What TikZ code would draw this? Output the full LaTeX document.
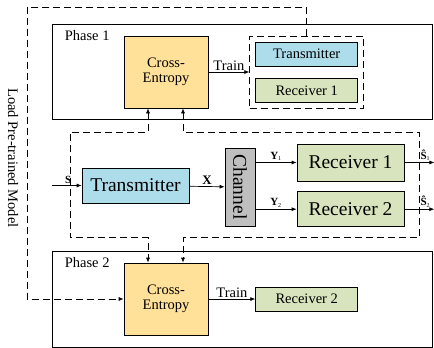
\documentclass[tikz,border=0pt]{standalone}
\usepackage{fontspec}
\setmainfont{Liberation Serif}
\usepackage{graphicx}
\usetikzlibrary{positioning,calc,arrows.meta}
\definecolor{ceyellow}{HTML}{FFE199}
\definecolor{txblue}{HTML}{ADDCEA}
\definecolor{rxgreen}{HTML}{D7E4BD}
\definecolor{chgray}{HTML}{BFBFBF}
\newcommand{\boxfont}{\fontsize{14.5}{15}\selectfont}
\newcommand{\bigboxfont}{\fontsize{19.5}{21}\selectfont}
\newcommand{\sigfont}{\fontsize{11}{12}\selectfont}
\newcommand{\sigsub}[1]{\textsubscript{\fontsize{6}{6}\selectfont #1}}

\begin{document}
\begin{tikzpicture}[x=1pt, y=-1pt,
  phase/.style={draw, line width=0.8pt, minimum width=380pt},
  block/.style={draw, line width=0.7pt, inner sep=0pt, align=center},
  ce/.style={block, fill=ceyellow, minimum width=84pt, minimum height=72pt, font=\boxfont},
  smalltx/.style={block, fill=txblue, minimum width=102pt, minimum height=24pt, font=\boxfont},
  smallrx/.style={block, fill=rxgreen, minimum width=102pt, minimum height=24pt, font=\boxfont},
  bigtx/.style={block, fill=txblue, minimum width=107pt, minimum height=35pt, font=\bigboxfont},
  bigrx/.style={block, fill=rxgreen, minimum width=107pt, font=\bigboxfont},
  arr/.style={-{Latex[length=5pt, width=4pt]}, line width=0.7pt},
  dasharr/.style={arr, dash pattern=on 7pt off 4pt},
  dashboth/.style={{Latex[length=5pt, width=4pt]}-{Latex[length=5pt, width=4pt]}, line width=0.7pt, dash pattern=on 7pt off 4pt},
  lbl/.style={inner sep=1.5pt, font=\sigfont}]

\useasboundingbox (0,0) rectangle (434,348);

% PHASE 1

\node [phase, minimum height=95pt] (phaseone) at (242,71.5) {};
\node [anchor=north west, inner sep=0pt, font=\boxfont] (phaseonetitle) at ($(phaseone.north west)+(13,7)$) {Phase 1};

\node [ce] (ceone) at (166,72) {Cross-\\Entropy};

\node [draw, dash pattern=on 7pt off 4pt, line width=0.7pt, minimum width=114pt, minimum height=72pt, right=41pt of ceone] (pretrain) {};
\node [smalltx] (smalltx) at ($(pretrain.center)+(0,-18)$) {Transmitter};
\node [smallrx, below=12pt of smalltx] (smallrxone) {Receiver 1};

% SYSTEM

\node [bigtx] (tx) at (135.5,185.5) {Transmitter};
\node [block, fill=chgray, minimum width=30pt, minimum height=78pt, font=\bigboxfont] (channel) at (240,187) {\rotatebox{-90}{Channel}};
\node [bigrx, minimum height=37pt] (rxone) at (350.5,162.5) {Receiver 1};
\node [bigrx, minimum height=35pt, below=10pt of rxone] (rxtwo) {Receiver 2};

\coordinate (input) at (phaseone.west |- tx);
\coordinate (outone) at ($(rxone.east)+(30,0)$);
\coordinate (outtwo) at ($(rxtwo.east)+(30,0)$);

% PHASE 2

\node [phase, minimum height=96pt] (phasetwo) at (242,299) {};
\node [anchor=north west, inner sep=0pt, font=\boxfont] (phasetwotitle) at ($(phasetwo.north west)+(13,7)$) {Phase 2};

\node [ce] (cetwo) at (166,299) {Cross-\\Entropy};
\node [smallrx, right=47pt of cetwo] (smallrxtwo) {Receiver 2};

\node [font=\boxfont] (loadtitle) at (13,158) {\rotatebox{-90}{Load Pre-trained Model}};

% LINKS

\draw[arr] (ceone) -- node[above, lbl, font=\boxfont] {Train} (pretrain);
\draw[arr] (cetwo) -- node[above, lbl, font=\boxfont] {Train} (smallrxtwo);

\draw[arr] (input) -- node[above, lbl, pos=0.55] {\textbf{S}} (tx);
\draw[arr] (tx) -- node[above, lbl, font=\fontsize{13}{14}\selectfont] {\textbf{X}} (channel);
\draw[arr] (channel.east |- rxone) -- node[above, lbl] {\textbf{Y}\sigsub{1}} (rxone);
\draw[arr] (channel.east |- rxtwo) -- node[above, lbl] {\textbf{Y}\sigsub{2}} (rxtwo);
\draw[arr] (rxone) -- node[above, lbl, pos=0.7] {\textbf{\^{S}}\sigsub{1}} (outone);
\draw[arr] (rxtwo) -- node[above, lbl, pos=0.7] {\textbf{\^{S}}\sigsub{2}} (outtwo);

\draw[dashboth] ($(ceone.south)+(-18,0)$) |- (70,132) |- ($(cetwo.north)+(-18,-25)$) -- ($(cetwo.north)+(-18,0)$);
\draw[dashboth] ($(ceone.south)+(17,0)$) |- (419,132) |- ($(cetwo.north)+(17,-25)$) -- ($(cetwo.north)+(17,0)$);

\draw[dasharr] (pretrain.north) |- (27,7) |- (cetwo.west);

\end{tikzpicture}
\end{document}
